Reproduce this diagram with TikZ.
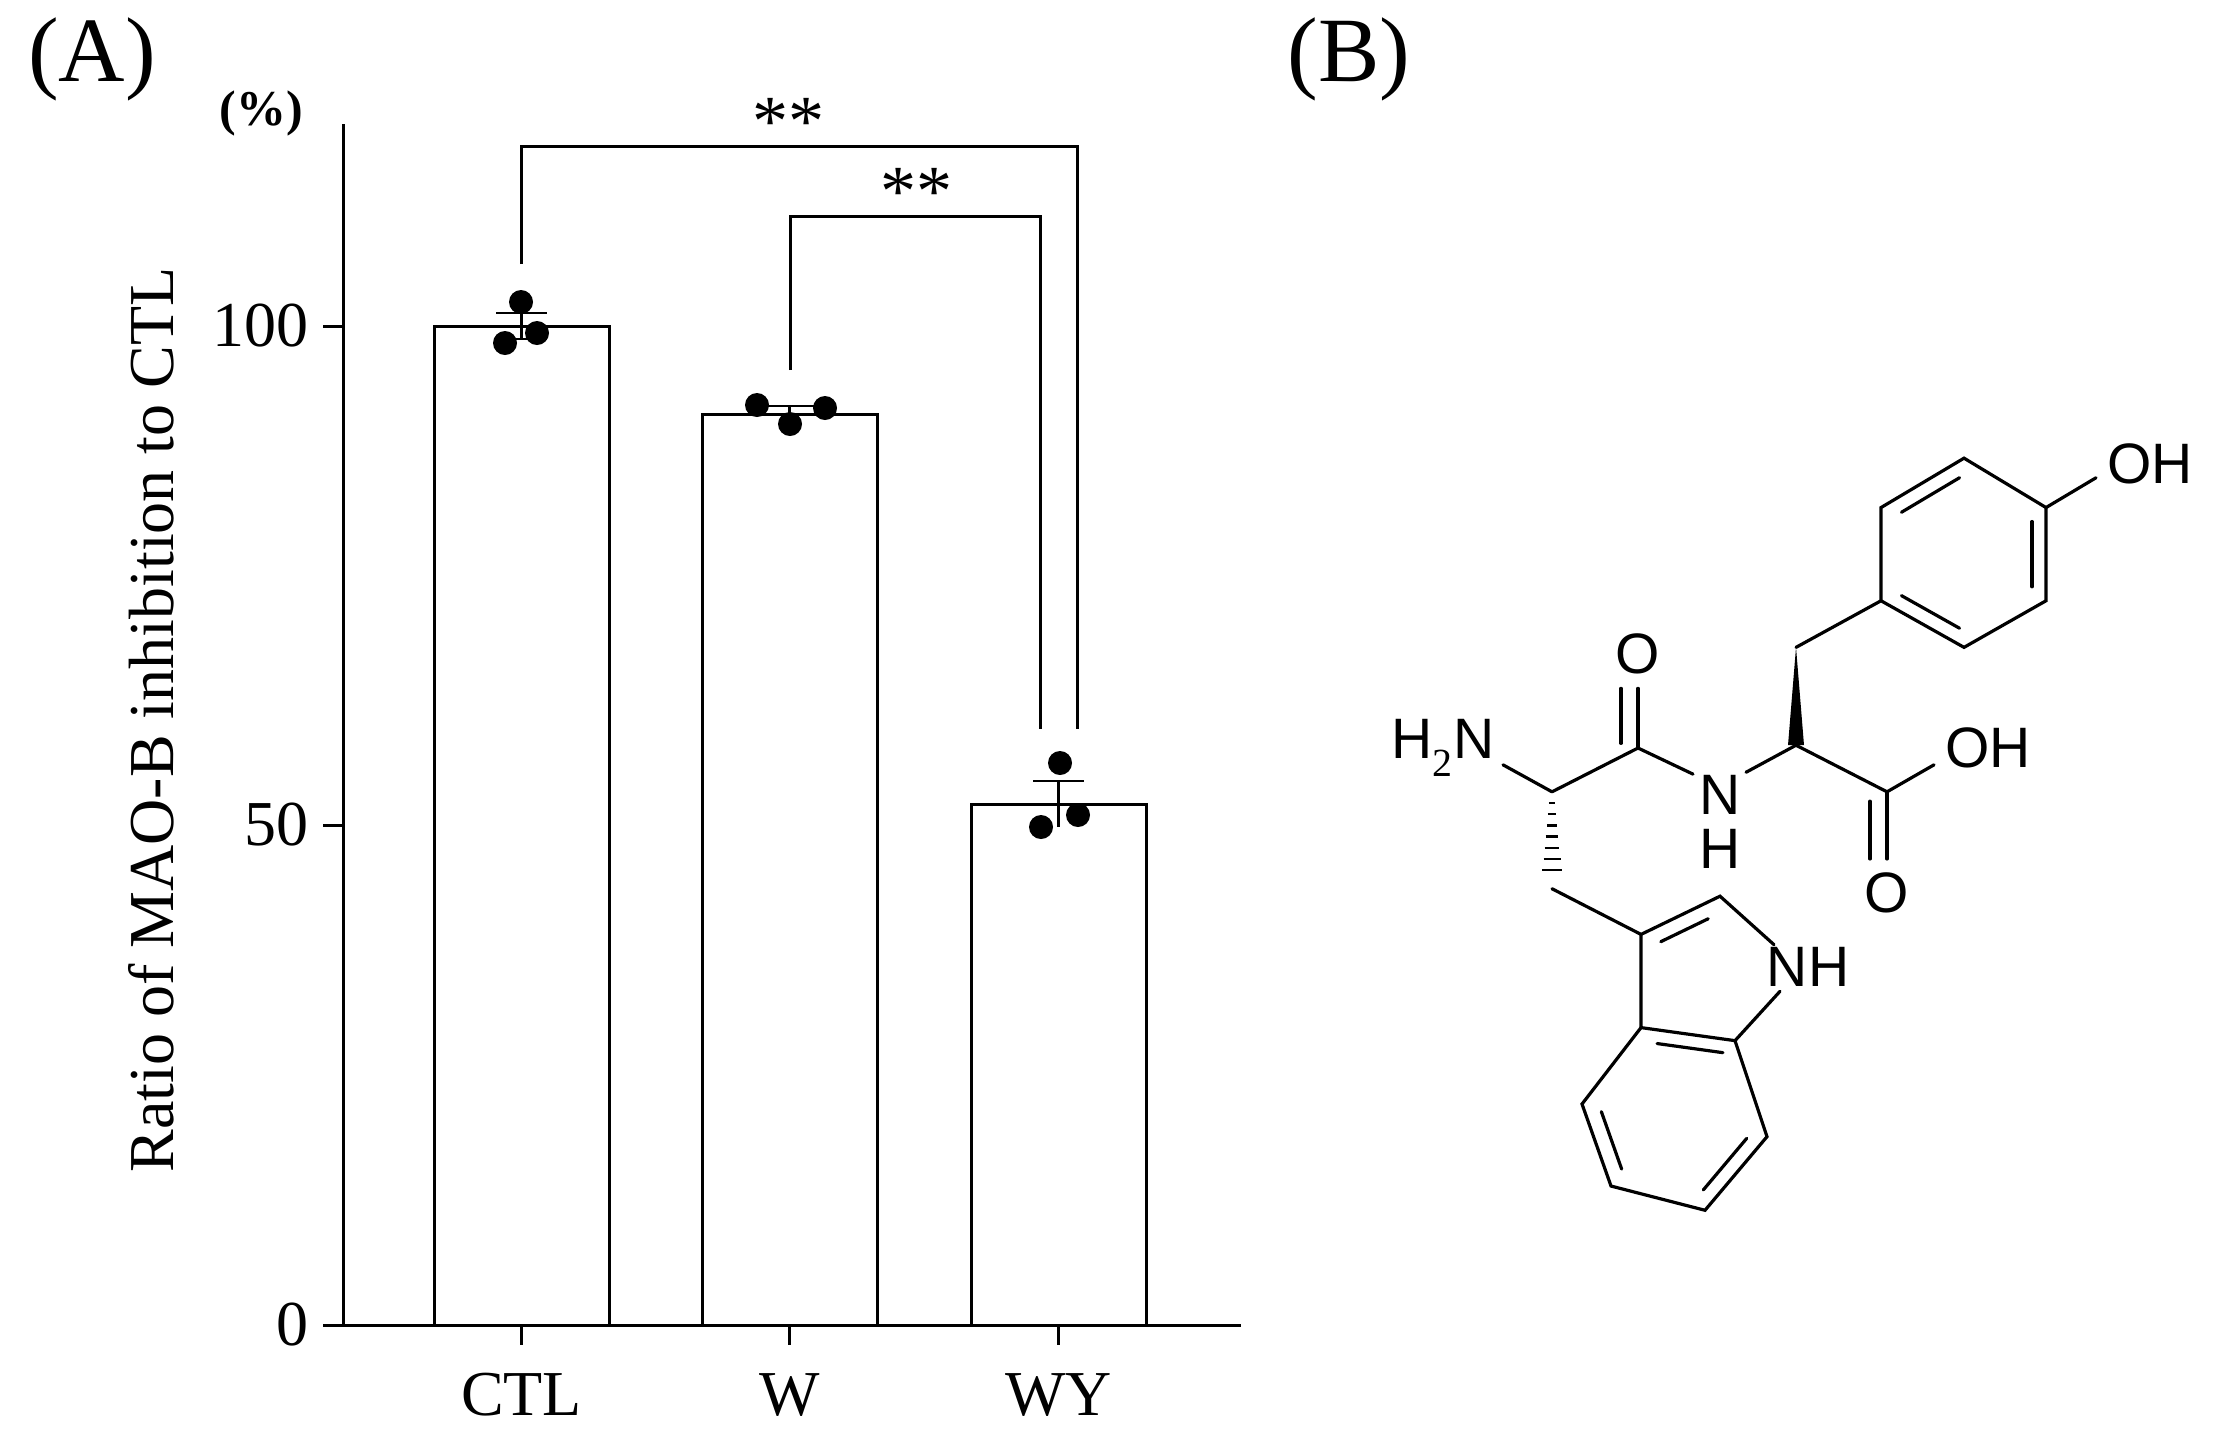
\documentclass[tikz,border=0pt]{standalone}
\usepackage{fontspec}
\usetikzlibrary{calc}
\setmainfont{Liberation Serif}
\newfontfamily\molfont{Liberation Sans}
\begin{document}
\begin{tikzpicture}[x=1pt,y=-1pt,
  ax/.style={line width=3pt},
  bar/.style={draw,line width=3pt,fill=white},
  dot/.style={circle,fill=black,inner sep=0pt,minimum size=24pt},
  bd/.style={line width=3.2pt,line cap=round},
  lab/.style={font=\fontsize{64}{70}\selectfont},
  atom/.style={font=\molfont\fontsize{57}{60}\selectfont,inner sep=0pt}]
\useasboundingbox (0,0) rectangle (2216,1444);
% axes
\draw[ax] (343,124) -- (343,1325) -- (1241,1325);
\foreach \v/\y in {0/1325,50/825,100/326}{
  \draw[ax] (323,\y) -- (343,\y);
  \node[lab,anchor=east] (t\v) at (312,\y) {\v};}
% bars
\draw[bar] (434,1325) rectangle (609,326);
\draw[bar] (702,1325) rectangle (877,414);
\draw[bar] (971,1325) rectangle (1146,804);
\foreach \x/\n in {521.5/CTL,789.5/W,1058.5/WY}{
  \draw[ax] (\x,1325) -- (\x,1345);
  \node[lab] (c\n) at (\x,1395) {\n};}
% error bars
\draw[line width=2.5pt] (496,313) -- (547,313) (521.5,313) -- (521.5,339) (496,339) -- (547,339);
\draw[line width=2.5pt] (764,406) -- (815,406) (789.5,406) -- (789.5,422);
\draw[line width=2.5pt] (1033,781) -- (1084,781) (1058.5,781) -- (1058.5,827);
% dots
\foreach \p in {(521,302),(505,343),(537,333),(757,405),(790,424),(825,408),(1060,763),(1041,827),(1078,815)}
  \node[dot] at \p {};
% brackets
\draw[line width=3pt] (521,264) -- (521,146) -- (1077,146) -- (1077,729);
\draw[line width=3pt] (790,370) -- (790,216) -- (1040,216) -- (1040,729);
\node[font=\fontsize{72}{72}\selectfont] (s1) at (788,122) {**};
\node[font=\fontsize{72}{72}\selectfont] (s2) at (916,192) {**};
% labels
\node[font=\fontsize{92}{96}\selectfont] (A) at (92,59) {(A)};
\node[font=\bfseries\fontsize{50}{54}\selectfont] (pc) at (261,113) {(\%)};
\node[font=\fontsize{92}{96}\selectfont] (B) at (1349,59) {(B)};
\node[lab,rotate=90] (yl) at (151,720) {Ratio of MAO-B inhibition to CTL};
% ---------- molecule ----------
\begin{scope}[shift={(0,22)},yscale=0.932]
\coordinate (r1) at (1881,521); \coordinate (r2) at (1964,468);
\coordinate (r3) at (2046,521); \coordinate (r4) at (2046,621);
\coordinate (r5) at (1964,671); \coordinate (r6) at (1881,621);
\draw[bd] (r1)--(r2)--(r3)--(r4)--(r5)--(r6)--cycle;
\draw[bd] ($(r1)!0.15!(r2)+(8,13)$) -- ($(r1)!0.85!(r2)+(8,13)$);
\draw[bd] ($(r3)!0.15!(r4)+(-14,0)$) -- ($(r3)!0.85!(r4)+(-14,0)$);
\draw[bd] ($(r5)!0.15!(r6)+(8,-13)$) -- ($(r5)!0.85!(r6)+(8,-13)$);
\node[atom] (OH1) at (2150,474) {OH};
\draw[bd] (r3) -- (2096,489);
\coordinate (cb2) at (1796,671); \coordinate (ca2) at (1796,776);
\draw[bd] (cb2) -- (r6);
\fill (cb2) -- ($(ca2)+(-8,0)$) -- ($(ca2)+(8,0)$) -- cycle;
\coordinate (cc) at (1887,826);
\draw[bd] (ca2) -- (cc) -- (1934,797);
\node[atom] (OH2) at (1988,779) {OH};
\draw[bd] (cc) -- (1887,898); \draw[bd] (1870,836) -- (1870,898);
\node[atom] (O2) at (1887,934) {O};
\node[atom] (N) at (1720,829) {N};
\node[atom] (H) at (1720,887) {H};
\draw[bd] (ca2) -- (1746,805);
\coordinate (c2) at (1638,779);
\draw[bd] (c2) -- (1693,807);
\draw[bd] (c2) -- (1638,715); \draw[bd] (1621,774) -- (1621,715);
\node[atom] (O1) at (1638,678) {O};
\coordinate (c1) at (1552,826);
\draw[bd] (c1) -- (c2);
\draw[bd] (c1) -- (1503,797);
\node[atom] (NH2) at (1443,779) {H$_{\mathrm{2}}$N};
\foreach \t in {0.12,0.24,...,0.96}
  \draw[line width=2.5pt] ($(c1)!\t!(1552,926)+(-2-9*\t,0)$) -- ($(c1)!\t!(1552,926)+(2+9*\t,0)$);
\coordinate (cb1) at (1552,930);
\coordinate (i3) at (1641,979); \coordinate (i2) at (1720,938);
\coordinate (i3a) at (1641,1079); \coordinate (i4) at (1582,1161);
\coordinate (i5) at (1611,1249); \coordinate (i6) at (1705,1275);
\coordinate (i7) at (1767,1196); \coordinate (i7a) at (1735,1093);
\node[atom] (NH) at (1808,1014) {NH};
\draw[bd] (cb1) -- (i3) -- (i2) -- (1774,990);
\draw[bd] (1780,1040) -- (i7a) -- (i3a) -- (i3);
\draw[bd] (i3a) -- (i4) -- (i5) -- (i6) -- (i7) -- (i7a);
\draw[bd] ($(i3)!0.2!(i2)+(4,16)$) -- ($(i3)!0.8!(i2)+(4,16)$);
\draw[bd] ($(i7a)!0.15!(i3a)+(2,15)$) -- ($(i7a)!0.85!(i3a)+(2,15)$);
\draw[bd] ($(i4)!0.15!(i5)+(15,-5)$) -- ($(i4)!0.85!(i5)+(15,-5)$);
\draw[bd] ($(i6)!0.15!(i7)+(-11,-10)$) -- ($(i6)!0.85!(i7)+(-11,-10)$);
\end{scope}
\end{tikzpicture}
\end{document}
